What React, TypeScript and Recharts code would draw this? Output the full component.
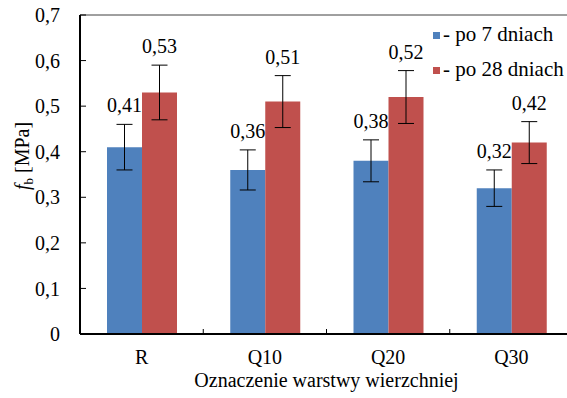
import React from "react";
import {
  Bar,
  BarChart,
  ErrorBar,
  LabelList,
  ReferenceLine,
  XAxis,
  YAxis,
} from "recharts";

// values
const categories = ["R", "Q10", "Q20", "Q30"];
const after7 = [0.41, 0.36, 0.38, 0.32];
const after28 = [0.53, 0.51, 0.52, 0.42];
const err7 = [0.05, 0.044, 0.046, 0.04];
const err28 = [0.06, 0.057, 0.058, 0.046];
const seriesNames = ["- po 7 dniach", "- po 28 dniach"];
const seriesColors = ["#4F81BD", "#C0504D"];
const yTicks = [0, 0.1, 0.2, 0.3, 0.4, 0.5, 0.6, 0.7];
const xTitle = "Oznaczenie warstwy wierzchniej";

const data = categories.map((name, i) => ({
  name,
  d7: after7[i],
  e7: err7[i],
  d28: after28[i],
  e28: err28[i],
}));

const FONT = '"Liberation Serif", "Times New Roman", serif';
const W = 575;
const H = 398;
const PLOT_LEFT = 80;
const PLOT_TOP = 15;
const PLOT_BOTTOM = 334;
const PLOT_RIGHT = 573;
const Y_MAX = 0.7;
const PX_PER_UNIT = (PLOT_BOTTOM - PLOT_TOP) / Y_MAX;
const BAND = (PLOT_RIGHT - PLOT_LEFT) / categories.length;

// polish decimal comma
const comma = (v: number, digits: number) =>
  v === 0 ? "0" : v.toFixed(digits).replace(".", ",");

// value label sits above the error bar
const makeLabel = (errs: number[]) => (props: any) => {
  const { x, y, width, value, index } = props;
  const top = Number(y) - errs[index] * PX_PER_UNIT;
  return (
    <text
      x={Number(x) + Number(width) / 2}
      y={top - 12}
      textAnchor="middle"
      fontFamily={FONT}
      fontSize={20}
      fill="#000"
    >
      {comma(Number(value), 2)}
    </text>
  );
};

const CategoryTick = (props: any) => {
  const { x, y, payload, index } = props;
  return (
    <g>
      {index > 0 && (
        <line
          x1={x - BAND / 2}
          x2={x - BAND / 2}
          y1={y}
          y2={y - 5}
          stroke="#000"
          strokeWidth={1}
        />
      )}
      <text
        x={x}
        y={y + 30}
        textAnchor="middle"
        fontFamily={FONT}
        fontSize={20}
        fill="#000"
      >
        {payload.value}
      </text>
    </g>
  );
};

const App: React.FC = () => {
  return (
    <div
      style={{
        position: "absolute",
        left: 0,
        top: 0,
        width: 567,
        height: 398,
        overflow: "hidden",
        background: "#fff",
      }}
    >
      <BarChart
        width={W}
        height={H}
        data={data}
        margin={{ top: PLOT_TOP, right: W - PLOT_RIGHT, left: 0, bottom: 0 }}
        barGap={0}
      >
        <XAxis
          dataKey="name"
          height={H - PLOT_BOTTOM}
          axisLine={{ stroke: "#000", strokeWidth: 2 }}
          tickLine={false}
          tickSize={0}
          tickMargin={0}
          tick={<CategoryTick />}
          interval={0}
          label={{
            content: () => (
              <text
                x={(PLOT_LEFT + PLOT_RIGHT) / 2}
                y={387}
                textAnchor="middle"
                fontFamily={FONT}
                fontSize={20}
                fill="#000"
              >
                {xTitle}
              </text>
            ),
          }}
        />
        <YAxis
          width={PLOT_LEFT}
          domain={[0, Y_MAX]}
          ticks={yTicks}
          interval={0}
          axisLine={{ stroke: "#000", strokeWidth: 2 }}
          tickLine={{ stroke: "#000", strokeWidth: 1 }}
          tickSize={-6}
          tickMargin={26}
          tickFormatter={(v: number) => comma(v, 1)}
          tick={{ fill: "#000", fontSize: 20, fontFamily: FONT }}
          label={{
            content: () => (
              <text
                x={29}
                y={156}
                transform="rotate(-90, 29, 156)"
                textAnchor="middle"
                fontFamily={FONT}
                fontSize={20}
                fill="#000"
              >
                <tspan fontStyle="italic">f</tspan>
                <tspan fontSize={13} dy={4}>
                  b
                </tspan>
                <tspan dy={-4}> [MPa]</tspan>
              </text>
            ),
          }}
        />
        <ReferenceLine y={Y_MAX} stroke="#404040" strokeWidth={1} />
        <Bar dataKey="d7" name={seriesNames[0]} fill={seriesColors[0]} barSize={35} isAnimationActive={false}>
          <ErrorBar dataKey="e7" width={8} stroke="#000" strokeWidth={1} direction="y" />
          <LabelList dataKey="d7" content={makeLabel(err7)} />
        </Bar>
        <Bar dataKey="d28" name={seriesNames[1]} fill={seriesColors[1]} barSize={35} isAnimationActive={false}>
          <ErrorBar dataKey="e28" width={8} stroke="#000" strokeWidth={1} direction="y" />
          <LabelList dataKey="d28" content={makeLabel(err28)} />
        </Bar>
      </BarChart>

      {/* legend */}
      {seriesNames.map((name, i) => (
        <React.Fragment key={name}>
          <div
            style={{
              position: "absolute",
              left: 433,
              top: 31.5 + i * 35,
              width: 7,
              height: 7,
              background: seriesColors[i],
            }}
          />
          <div
            style={{
              position: "absolute",
              left: 443,
              top: 24 + i * 35,
              fontFamily: FONT,
              fontSize: 21,
              lineHeight: "21px",
              whiteSpace: "nowrap",
              color: "#000",
            }}
          >
            {name}
          </div>
        </React.Fragment>
      ))}
    </div>
  );
};

export default App;
